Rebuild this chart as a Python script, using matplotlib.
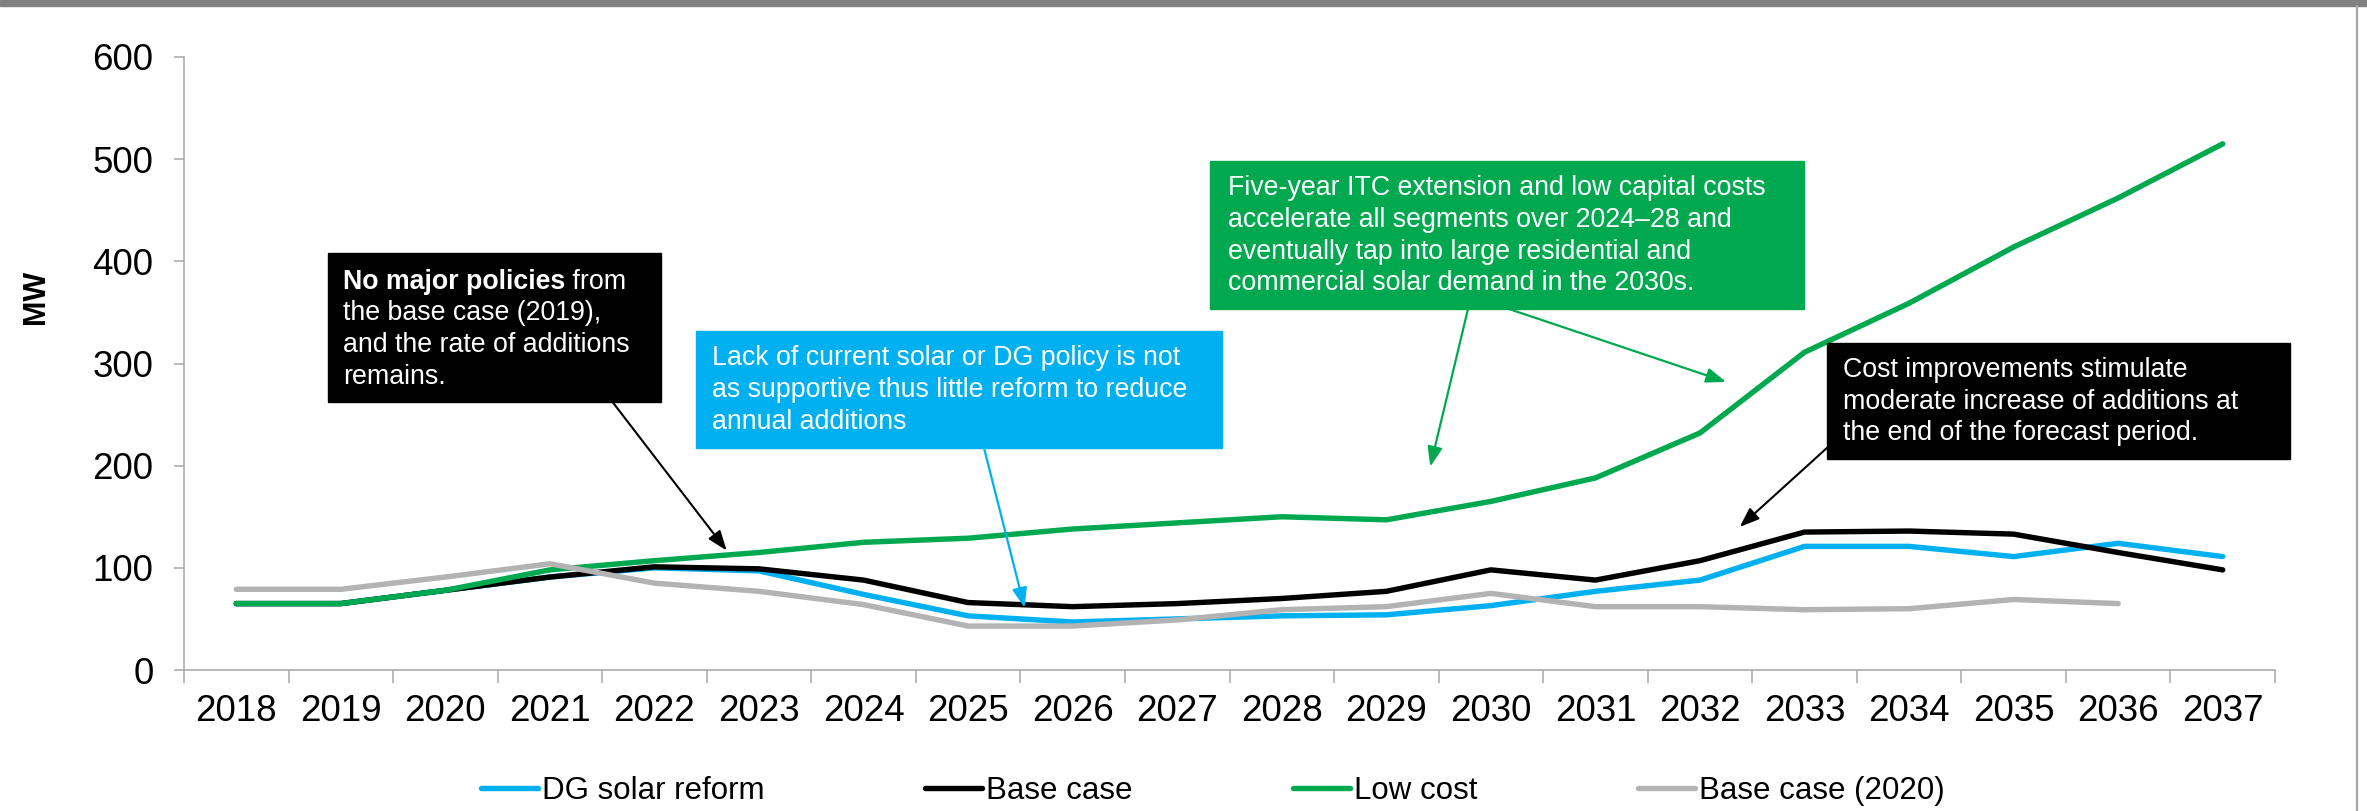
import matplotlib
matplotlib.use("Agg")
import matplotlib.pyplot as plt
from matplotlib.patches import Rectangle
from matplotlib.lines import Line2D
import numpy as np

plt.rcParams['font.family'] = ['Liberation Sans', 'DejaVu Sans']

years = [str(y) for y in range(2018, 2038)]
dg_reform = [65, 65, 78, 91, 100, 97, 74, 53, 47, 50, 53, 54, 63, 77, 88, 121, 121, 111, 124, 111]
base_case = [65, 65, 78, 91, 101, 99, 88, 66, 62, 65, 70, 77, 98, 88, 107, 135, 136, 133, 115, 98]
low_cost = [65, 65, 78, 98, 107, 115, 125, 129, 138, 144, 150, 147, 165, 188, 232, 311, 359, 414, 462, 515]
base_2020 = [79, 79, 91, 104, 85, 77, 64, 43, 43, 49, 59, 62, 75, 62, 62, 59, 60, 69, 65, np.nan]

series_names = ['DG solar reform', 'Base case', 'Low cost', 'Base case (2020)']
series_colors = ['#00b0f0', '#000000', '#00a94f', '#b3b3b3']

W, H = 2367, 811
fig = plt.figure(figsize=(W / 100, H / 100), dpi=100, facecolor='white')


def fx(x):
    return x / W


def fy(y):
    return 1 - y / H


ax = fig.add_axes([fx(184), fy(670), fx(2275) - fx(184), fy(57) - fy(670)])

x = np.arange(len(years))
for vals, name, col in zip([dg_reform, base_case, low_cost, base_2020], series_names, series_colors):
    ax.plot(x, vals, color=col, lw=3.9, label=name, solid_capstyle='round', solid_joinstyle='round')

ax.set_xlim(-0.5, len(years) - 0.5)
ax.set_ylim(0, 600)
ax.set_yticks(range(0, 601, 100))
# category boundaries carry the tick marks, category centres carry the labels
ax.set_xticks(np.arange(-0.5, len(years), 1.0))
ax.set_xticklabels([])
ax.set_xticks(x, minor=True)
ax.set_xticklabels(years, minor=True)
ax.tick_params(axis='x', which='major', length=9, width=1.1, color='#a6a6a6', direction='out')
ax.tick_params(axis='x', which='minor', length=0, pad=17, labelsize=26.5)
ax.tick_params(axis='y', length=7, width=1.1, color='#a6a6a6', pad=15, labelsize=26.5)
for s in ['top', 'right']:
    ax.spines[s].set_visible(False)
for s in ['left', 'bottom']:
    ax.spines[s].set_color('#a6a6a6')
    ax.spines[s].set_linewidth(1.1)

fig.text(fx(36), fy(297), 'MW', rotation=90, ha='center', va='center', fontsize=22, fontweight='bold')

# top band and right border
fig.patches.append(Rectangle((0, fy(6)), 1, fy(0) - fy(6), transform=fig.transFigure, color='#808080', zorder=0))
fig.add_artist(Line2D([fx(2357), fx(2357)], [0, fy(6)], transform=fig.transFigure, color='#a6a6a6', lw=1.6))

# annotation boxes: (left, top, right, bottom), colour
boxes = [
    ((328, 253, 661, 402), '#000000'),
    ((696, 331, 1222, 448), '#00b0f0'),
    ((1210, 161, 1804, 309), '#00a94f'),
    ((1827, 343, 2290, 459), '#000000'),
]
for (l, t, r, b), col in boxes:
    fig.patches.append(Rectangle((fx(l), fy(b)), fx(r) - fx(l), fy(t) - fy(b),
                                 transform=fig.transFigure, color=col, zorder=3))

note_size = 19.3
txt_kw = dict(color='white', fontsize=note_size, va='center', ha='left', zorder=4)

renderer = fig.canvas.get_renderer()
bold = fig.text(fx(343), fy(282), 'No major policies', fontweight='bold', **txt_kw)
bb = bold.get_window_extent(renderer)
fig.text(bb.x1 / W, fy(282), ' from', **txt_kw)
for yy, line in zip([313, 345, 377], ['the base case (2019),', 'and the rate of additions', 'remains.']):
    fig.text(fx(343), fy(yy), line, **txt_kw)

for yy, line in zip([358, 390, 422], ['Lack of current solar or DG policy is not',
                                      'as supportive thus little reform to reduce',
                                      'annual additions']):
    fig.text(fx(712), fy(yy), line, **txt_kw)

for yy, line in zip([188, 220, 252, 283], ['Five-year ITC extension and low capital costs',
                                           'accelerate all segments over 2024\u201328 and',
                                           'eventually tap into large residential and',
                                           'commercial solar demand in the 2030s.']):
    fig.text(fx(1228), fy(yy), line, **txt_kw)

for yy, line in zip([370, 402, 433], ['Cost improvements stimulate',
                                      'moderate increase of additions at',
                                      'the end of the forecast period.']):
    fig.text(fx(1843), fy(yy), line, **txt_kw)

# arrows from the boxes to the lines (tip in data coords, tail in figure pixels)
arrows = [
    ((4.69, 117), (611, 400), '#000000', 1.5),
    ((7.54, 61), (984, 448), '#00b0f0', 1.6),
    ((11.42, 199), (1468, 309), '#00a94f', 1.6),
    ((14.25, 282), (1509, 309), '#00a94f', 1.6),
    ((14.38, 140), (1828, 447), '#000000', 1.5),
]
for tip, tail, col, lw in arrows:
    ax.annotate('', xy=tip, xycoords='data', xytext=(tail[0], H - tail[1]), textcoords='figure pixels',
                arrowprops=dict(arrowstyle='-|>,head_length=0.8,head_width=0.3', color=col, lw=lw,
                                shrinkA=0, shrinkB=0, mutation_scale=15),
                annotation_clip=False, zorder=5)

handles, labels = ax.get_legend_handles_labels()
fig.legend(handles, labels, loc='center', bbox_to_anchor=(fx(1213), fy(791)), ncol=4, frameon=False,
           fontsize=22.5, handlelength=1.82, handletextpad=0.12, columnspacing=5.15,
           borderpad=0, borderaxespad=0)

fig.savefig('out.png', dpi=100, facecolor='white')
